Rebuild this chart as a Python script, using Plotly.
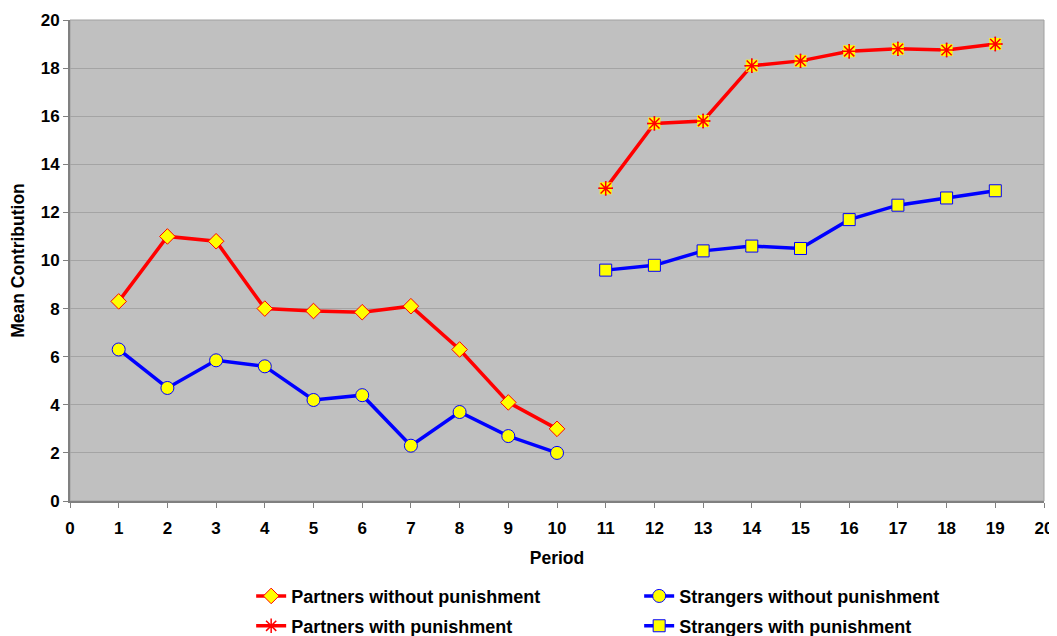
import plotly.graph_objects as go

periods_a = [1, 2, 3, 4, 5, 6, 7, 8, 9, 10]
periods_b = [11, 12, 13, 14, 15, 16, 17, 18, 19]
partners_without = [8.3, 11.0, 10.8, 8.0, 7.9, 7.85, 8.1, 6.3, 4.1, 3.0]
strangers_without = [6.3, 4.7, 5.85, 5.6, 4.2, 4.4, 2.3, 3.7, 2.7, 2.0]
partners_with = [13.0, 15.7, 15.8, 18.1, 18.3, 18.7, 18.8, 18.75, 19.0]
strangers_with = [9.6, 9.8, 10.4, 10.6, 10.5, 11.7, 12.3, 12.6, 12.9]
x_ticks = list(range(0, 21))
y_ticks = list(range(0, 21, 2))

RED = "#FF0000"
BLUE = "#0000FF"
YEL = "#FFFF00"

fig = go.Figure()
fig.add_trace(go.Scatter(
    x=periods_a, y=partners_without, name="Partners without punishment", legend="legend",
    mode="lines+markers", line=dict(color=RED, width=3.5),
    marker=dict(symbol="diamond", size=12, color=YEL, line=dict(color=RED, width=1))))
fig.add_trace(go.Scatter(
    x=periods_a, y=strangers_without, name="Strangers without punishment", legend="legend",
    mode="lines+markers", line=dict(color=BLUE, width=3.5),
    marker=dict(symbol="circle", size=13, color=YEL, line=dict(color=BLUE, width=1))))
fig.add_trace(go.Scatter(
    x=periods_b, y=partners_with, name="Partners with punishment", legend="legend2",
    mode="lines+markers", line=dict(color=RED, width=3.5),
    marker=dict(symbol="asterisk-open", size=12, color=RED, line=dict(color=RED, width=1.5))))
fig.add_trace(go.Scatter(
    x=periods_b, y=partners_with, showlegend=False, hoverinfo="skip",
    mode="markers", marker=dict(symbol="square", size=12, color=YEL, line=dict(width=0))))
fig.add_trace(go.Scatter(
    x=periods_b, y=partners_with, showlegend=False, hoverinfo="skip",
    mode="markers", marker=dict(symbol="asterisk-open", size=12, color=RED, line=dict(color=RED, width=1.5))))
fig.add_trace(go.Scatter(
    x=periods_b, y=strangers_with, name="Strangers with punishment", legend="legend2",
    mode="lines+markers", line=dict(color=BLUE, width=3.5),
    marker=dict(symbol="square", size=12, color=YEL, line=dict(color=BLUE, width=1))))

# plot-area border (light gray, right/top)
fig.add_shape(type="rect", xref="paper", yref="paper", x0=0, x1=1, y0=0, y1=1,
              line=dict(color="#A0A0A0", width=1), layer="below")

font_family = "Liberation Sans, Arial, sans-serif"
legend_common = dict(
    orientation="h", x=0.186, xanchor="left", yanchor="middle",
    entrywidth=343, entrywidthmode="pixels",
    font=dict(size=18, family=font_family, weight="bold"),
    bgcolor="rgba(0,0,0,0)", tracegroupgap=0,
)
# page is offset by the default 8px body margin; figure is 8px smaller to compensate
fig.update_layout(
    width=1049, height=628,
    margin=dict(l=62, r=13, t=12, b=135, autoexpand=False),
    paper_bgcolor="white", plot_bgcolor="#C0C0C0",
    font=dict(family=font_family, size=17, color="black"),
    xaxis=dict(
        range=[0, 20], tickmode="array", tickvals=x_ticks,
        ticks="outside", ticklen=5, tickcolor="#808080", ticklabelstandoff=6,
        showgrid=False, zeroline=False,
        showline=True, linecolor="#808080", linewidth=2,
        tickfont=dict(size=17, family=font_family, weight="bold"),
        title=dict(text="<b>Period</b>", font=dict(size=17.5), standoff=14),
    ),
    yaxis=dict(
        range=[0, 20], tickmode="array", tickvals=y_ticks,
        ticks="outside", ticklen=5, tickcolor="#808080",
        showgrid=True, gridcolor="#A4A4A4", gridwidth=1, zeroline=False,
        showline=True, linecolor="#808080", linewidth=2,
        tickfont=dict(size=17, family=font_family, weight="bold"),
        title=dict(text="<b>Mean Contribution</b>", font=dict(size=17.5), standoff=12),
    ),
    legend=dict(legend_common, y=-0.198),
    legend2=dict(legend_common, y=-0.26),
)

fig.write_html("out.html")
